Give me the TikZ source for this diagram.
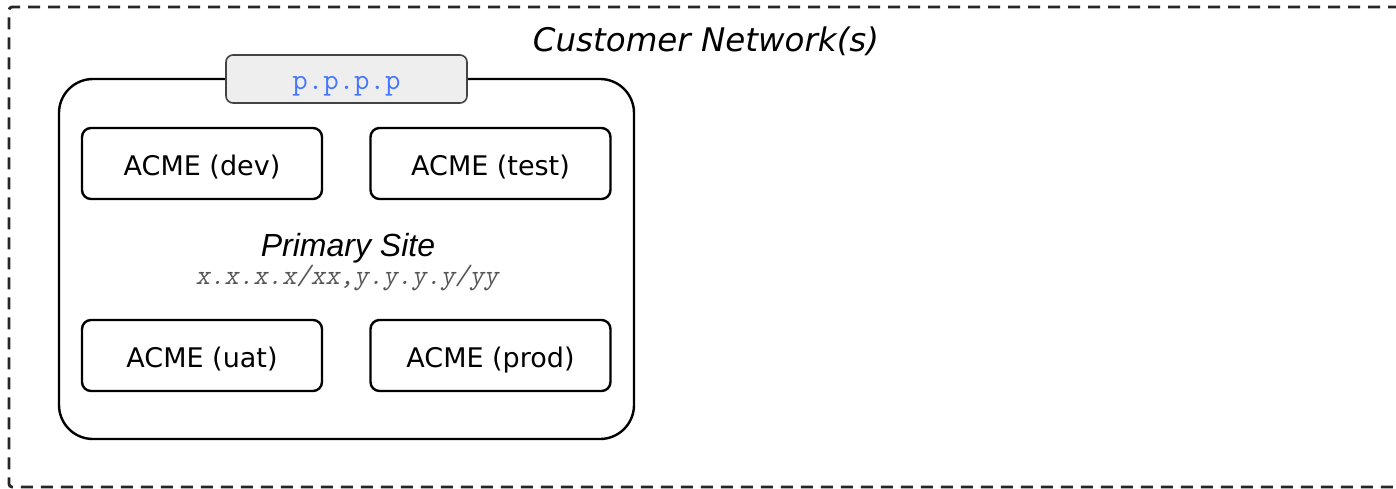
\documentclass[tikz,border=0pt]{standalone}
\usepackage{fontspec}
\setmainfont{DejaVu Sans}
\newfontfamily\helv{Liberation Sans}
\newfontfamily\cour{Latin Modern Mono}
\newfontfamily\courobl[FakeSlant=0.2]{Latin Modern Mono}
\usetikzlibrary{positioning}
\definecolor{tabfill}{HTML}{EEEEEE}
\definecolor{tabline}{HTML}{444444}
\definecolor{ipblue}{HTML}{4477FF}
\definecolor{ipgray}{HTML}{555555}
\tikzset{
  envbox/.style={draw=black, line width=2.4pt, rounded corners=9pt, minimum width=240pt, minimum height=71pt, text height=27pt, text depth=3pt, font=\fontsize{27}{30}\selectfont},
  sitebox/.style={draw=black, line width=2.4pt, rounded corners=34pt},
  tabbox/.style={draw=tabline, fill=tabfill, line width=1.6pt, rounded corners=7pt, minimum width=241pt, minimum height=48pt, text height=22pt, text depth=0pt, text=ipblue, font=\cour\fontsize{30}{32}\selectfont},
  outer/.style={draw=black!85, line width=2.8pt, dash pattern=on 12pt off 8pt, rounded corners=3pt},
}
\begin{document}
\begin{tikzpicture}[x=1pt,y=-1pt]
\useasboundingbox (0,0) rectangle (1396,489);
\draw[outer] (1420,7) -- (9,7) -- (9,487) -- (1420,487);
\node (cust) at (706,41) {\fontsize{32.5}{36}\selectfont\itshape Customer Network(s)};
\draw[sitebox] (59,79) rectangle (634,439);
\node[tabbox] (tab) at (346.5,79) {p.p.p.p};
\node[envbox] (dev) at (202,163.5) {ACME (dev)};
\node[envbox] (test) at (490.5,163.5) {ACME (test)};
\node[envbox] (uat) at (202,355.5) {ACME (uat)};
\node[envbox] (prod) at (490.5,355.5) {ACME (prod)};
\node (site) at (348,248.5) {\helv\itshape\fontsize{32}{36}\selectfont Primary Site};
\node[text=ipgray] (ip) at (347,277.5) {\courobl\fontsize{28}{30}\selectfont x.x.x.x/xx,y.y.y.y/yy};
\end{tikzpicture}
\end{document}
